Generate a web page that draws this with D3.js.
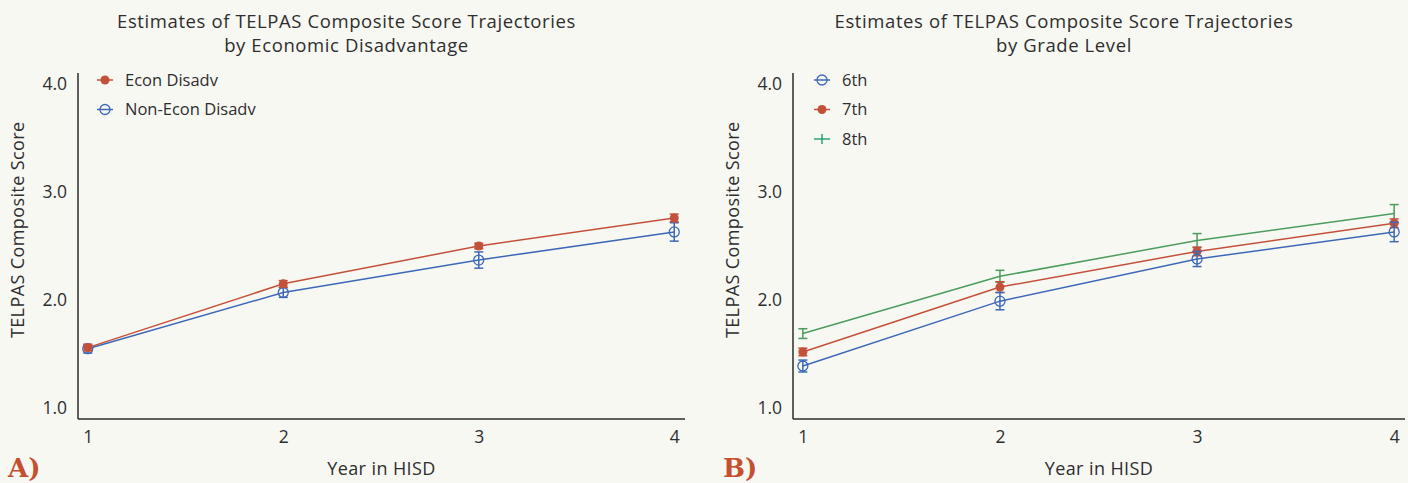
<!DOCTYPE html>
<html>
<head>
<meta charset="utf-8">
<script src="https://cdn.jsdelivr.net/npm/d3@7"></script>
<style>
  body { margin: 0; background: #f8f8f3; }
  svg { display: block; font-family: "Open Sans", Lato, sans-serif; }
  .axis path { stroke: #2b2b2b; stroke-width: 1.5; }
  .axis .tick line { display: none; }
  .axis text { font-size: 17.5px; fill: #2e2e2e; font-family: "Open Sans", sans-serif; }
  .title { font-size: 18.5px; letter-spacing: 0.6px; fill: #2e2e2e; }
  .axis-title { font-size: 18px; letter-spacing: 0.4px; fill: #2e2e2e; }
  .legend text { font-size: 16.5px; fill: #2e2e2e; }
  .panel-tag { font-family: "DejaVu Serif", serif; font-weight: bold; font-size: 26px; fill: #c4502f; }
</style>
</head>
<body>
<div id="chart"></div>
<script>
// data
var years = [1, 2, 3, 4];
var yTicks = [1.0, 2.0, 3.0, 4.0];

var econMean = [1.56, 2.15, 2.50, 2.76];
var econErr = [0.03, 0.03, 0.025, 0.035];
var nonEconMean = [1.55, 2.07, 2.37, 2.63];
var nonEconErr = [0.04, 0.045, 0.075, 0.085];

var grade6Mean = [1.39, 1.99, 2.38, 2.63];
var grade6Err = [0.055, 0.08, 0.07, 0.09];
var grade7Mean = [1.52, 2.12, 2.45, 2.71];
var grade7Err = [0.035, 0.05, 0.04, 0.04];
var grade8Mean = [1.69, 2.22, 2.55, 2.80];
var grade8Err = [0.045, 0.055, 0.065, 0.083];

var RED = "#c5503a", BLUE = "#3d68b8", GREEN = "#4c9d5c", TEAL = "#2aa57c";

var svg = d3.select("#chart")
    .append("svg")
    .attr("width", 1408)
    .attr("height", 483);

function drawPanel(p) {
    var x = d3.scaleLinear().domain([0.95, 4.055]).range([p.left, p.right]);
    var y = d3.scaleLinear().domain([0.9, 4.1]).range([419, 73]);

    var g = svg.append("g");

    // titles
    g.append("text").attr("class", "title")
        .attr("x", (p.left + p.right) / 2 - 35).attr("y", 28)
        .attr("text-anchor", "middle").text(p.title[0]);
    g.append("text").attr("class", "title")
        .attr("x", (p.left + p.right) / 2 - 35).attr("y", 52)
        .attr("text-anchor", "middle").text(p.title[1]);

    // axes
    g.append("g").attr("class", "axis")
        .attr("transform", "translate(0," + y(0.9) + ")")
        .call(d3.axisBottom(x).tickValues(years).tickSize(0).tickPadding(12).tickFormat(d3.format("d")))
        .call(function (a) { a.select(".domain").attr("d", "M" + p.left + ",0H" + p.right); });

    g.append("g").attr("class", "axis")
        .attr("transform", "translate(" + p.left + ",0)")
        .call(d3.axisLeft(y).tickValues(yTicks).tickSize(0).tickPadding(11).tickFormat(d3.format(".1f")))
        .call(function (a) { a.select(".domain").attr("d", "M0," + y(0.9) + "V" + y(4.1)); });

    g.append("text").attr("class", "axis-title")
        .attr("text-anchor", "middle")
        .attr("transform", "translate(" + (p.left - 54) + "," + y(2.65) + ") rotate(-90)")
        .text("TELPAS Composite Score");

    g.append("text").attr("class", "axis-title")
        .attr("x", (p.left + p.right) / 2).attr("y", 475)
        .attr("text-anchor", "middle").text("Year in HISD");

    g.append("text").attr("class", "panel-tag")
        .attr("x", p.left - 70).attr("y", 477).text(p.tag);

    // series
    var line = d3.line()
        .x(function (d) { return x(d.year); })
        .y(function (d) { return y(d.mean); });

    p.series.forEach(function (s) {
        var pts = years.map(function (yr, i) {
            return { year: yr, mean: s.mean[i], err: s.err[i] };
        });
        var sg = g.append("g");
        sg.append("path").datum(pts)
            .attr("fill", "none").attr("stroke", s.color).attr("stroke-width", 1.5)
            .attr("d", line);

        var eb = sg.selectAll(".eb").data(pts).enter().append("g");
        eb.append("line")
            .attr("x1", function (d) { return x(d.year); })
            .attr("x2", function (d) { return x(d.year); })
            .attr("y1", function (d) { return y(d.mean - d.err); })
            .attr("y2", function (d) { return y(d.mean + d.err); })
            .attr("stroke", s.color).attr("stroke-width", 1.5);
        [-1, 1].forEach(function (sgn) {
            eb.append("line")
                .attr("x1", function (d) { return x(d.year) - 4.5; })
                .attr("x2", function (d) { return x(d.year) + 4.5; })
                .attr("y1", function (d) { return y(d.mean + sgn * d.err); })
                .attr("y2", function (d) { return y(d.mean + sgn * d.err); })
                .attr("stroke", s.color).attr("stroke-width", 1.5);
        });

        if (s.marker === "filled") {
            eb.append("circle")
                .attr("cx", function (d) { return x(d.year); })
                .attr("cy", function (d) { return y(d.mean); })
                .attr("r", 4.5).attr("fill", s.color);
        } else if (s.marker === "open") {
            eb.append("circle")
                .attr("cx", function (d) { return x(d.year); })
                .attr("cy", function (d) { return y(d.mean); })
                .attr("r", 5).attr("fill", "none")
                .attr("stroke", s.color).attr("stroke-width", 1.3);
        }
    });

    // legend
    var lg = g.append("g").attr("class", "legend")
        .attr("transform", "translate(" + (p.left + p.legendDx) + ",80)");
    p.legend.forEach(function (s, i) {
        var row = lg.append("g").attr("transform", "translate(0," + i * 29.5 + ")");
        row.append("line").attr("x1", -8).attr("x2", 8)
            .attr("stroke", s.legendColor || s.color).attr("stroke-width", 1.5);
        if (s.marker === "filled") {
            row.append("circle").attr("r", 4.5).attr("fill", s.color);
        } else if (s.marker === "open") {
            row.append("circle").attr("r", 5).attr("fill", "none")
                .attr("stroke", s.color).attr("stroke-width", 1.3);
        } else {
            row.append("line").attr("y1", -5).attr("y2", 5)
                .attr("stroke", s.legendColor || s.color).attr("stroke-width", 1.5);
        }
        row.append("text").attr("x", 20).attr("dy", "0.35em").text(s.name);
    });
}

var econSeries = [
    { name: "Non-Econ Disadv", mean: nonEconMean, err: nonEconErr, color: BLUE, marker: "open" },
    { name: "Econ Disadv", mean: econMean, err: econErr, color: RED, marker: "filled" }
];
drawPanel({
    left: 78, right: 685, tag: "A)", legendDx: 27,
    title: ["Estimates of TELPAS Composite Score Trajectories", "by Economic Disadvantage"],
    series: econSeries,
    legend: [econSeries[1], econSeries[0]]
});

var gradeSeries = [
    { name: "8th", mean: grade8Mean, err: grade8Err, color: GREEN, legendColor: TEAL, marker: "none" },
    { name: "7th", mean: grade7Mean, err: grade7Err, color: RED, marker: "filled" },
    { name: "6th", mean: grade6Mean, err: grade6Err, color: BLUE, marker: "open" }
];
drawPanel({
    left: 793, right: 1405, tag: "B)", legendDx: 29,
    title: ["Estimates of TELPAS Composite Score Trajectories", "by Grade Level"],
    series: gradeSeries,
    legend: [gradeSeries[2], gradeSeries[1], gradeSeries[0]]
});
</script>
</body>
</html>
